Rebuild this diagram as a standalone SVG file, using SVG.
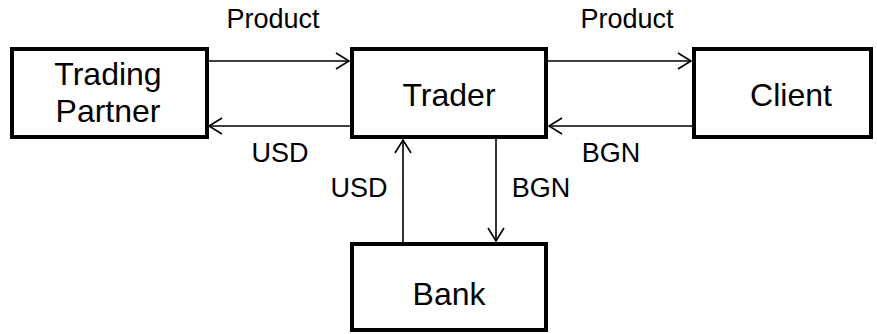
<svg xmlns="http://www.w3.org/2000/svg" width="877" height="334" viewBox="0 0 877 334">
<defs>
<style>
.box{fill:#fff;stroke:#000;stroke-width:4}
.lbl{font-family:"Liberation Sans",Arial,sans-serif;font-size:32px;fill:#000;text-anchor:middle}
.el{font-family:"Liberation Sans",Arial,sans-serif;font-size:27px;fill:#000;text-anchor:middle}
.conn{stroke:#000;stroke-width:1.6;fill:none;marker-end:url(#arr)}
</style>
<marker id="arr" markerUnits="userSpaceOnUse" markerWidth="16" markerHeight="20" viewBox="-14 -10 16 20" refX="0" refY="0" orient="auto">
<path d="M-13,-8 L0,0 L-13,8" fill="none" stroke="#000" stroke-width="1.6"/>
</marker>
</defs>
<rect width="877" height="334" fill="#fff"/>
<g id="connectors">
<line class="conn" x1="208" y1="61" x2="349" y2="61"/>
<line class="conn" x1="350" y1="126" x2="209" y2="126"/>
<line class="conn" x1="548" y1="61" x2="691" y2="61"/>
<line class="conn" x1="692" y1="126" x2="549" y2="126"/>
<line class="conn" x1="403" y1="242" x2="403" y2="140"/>
<line class="conn" x1="496" y1="139" x2="496" y2="241"/>
<text class="el" x="273" y="28">Product</text>
<text class="el" x="627" y="28">Product</text>
<text class="el" x="280" y="162">USD</text>
<text class="el" x="611" y="162">BGN</text>
<text class="el" x="359" y="197">USD</text>
<text class="el" x="541" y="197">BGN</text>
</g>
<g id="trading-partner">
<rect class="box" x="12" y="49" width="195" height="88"/>
<text class="lbl" x="108" y="85">Trading</text>
<text class="lbl" x="108" y="122">Partner</text>
</g>
<g id="trader">
<rect class="box" x="352" y="49" width="194" height="88"/>
<text class="lbl" x="449" y="106">Trader</text>
</g>
<g id="client">
<rect class="box" x="694" y="49" width="177" height="88"/>
<text class="lbl" x="791" y="106">Client</text>
</g>
<g id="bank">
<rect class="box" x="352" y="244" width="194" height="86"/>
<text class="lbl" x="449" y="305">Bank</text>
</g>
</svg>
